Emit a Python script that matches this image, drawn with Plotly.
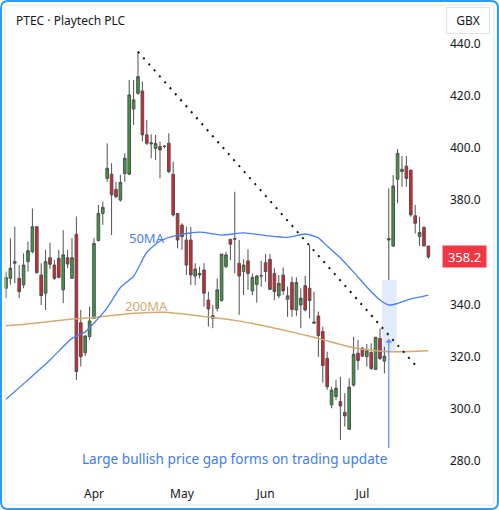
import plotly.graph_objects as go
import pandas as pd

# ---------------- data ----------------
holidays = ["2021-04-02", "2021-04-05", "2021-05-03", "2021-05-31"]
dates = pd.bdate_range("2021-03-04", "2021-07-22", freq="C", holidays=holidays)

opens = [346.2, 350.0, 355.8, 350.0, 347.5, 356.4, 360.2, 369.8, 351.3, 344.3,
         357.9, 355.1, 357.7, 345.6, 357.9, 350.0, 366.9, 333.0, 321.5, 327.7,
         334.7, 364.5, 374.9, 388.3, 389.9, 384.1, 380.0, 390.2, 389.9, 414.9,
         420.9, 421.8, 405.0, 401.5, 399.8, 400.5, 400.5, 401.8, 389.9, 374.9,
         370.4, 364.7, 364.7, 350.9, 351.3, 353.2, 341.7, 334.7, 338.5, 341.5,
         354.5, 365.0, 365.0, 355.8, 352.6, 356.7, 345.2, 347.7, 350.9, 356.0,
         357.3, 351.9, 343.3, 351.3, 342.0, 348.4, 337.9, 339.8, 347.2, 346.2,
         332.8, 335.6, 329.6, 319.3, 301.5, 304.7, 302.8, 298.7, 292.2, 309.1,
         321.3, 323.2, 320.0, 321.6, 315.1, 327.0, 318.3, 364.7, 362.4, 388.0,
         390.9, 393.0, 391.5, 374.0, 366.0, 369.5, 362.4]
highs = [352.6, 365.4, 369.8, 355.1, 359.6, 364.1, 376.8, 370.0, 355.8, 360.9,
         363.7, 357.0, 360.9, 368.5, 360.9, 365.4, 373.7, 337.9, 328.3, 339.2,
         365.4, 378.1, 379.4, 401.7, 394.1, 387.0, 389.6, 397.9, 426.0, 426.0,
         436.9, 425.4, 410.7, 405.2, 405.0, 402.4, 401.1, 405.6, 394.7, 374.9,
         371.1, 369.8, 369.8, 355.8, 354.5, 355.8, 344.9, 339.8, 350.0, 359.3,
         360.2, 365.0, 383.2, 364.7, 357.3, 361.1, 351.9, 351.3, 356.7, 359.3,
         359.3, 353.9, 351.3, 354.2, 346.8, 350.7, 350.4, 346.2, 351.0, 362.8,
         344.9, 337.3, 331.5, 321.9, 308.5, 311.1, 312.3, 306.0, 311.7, 327.6,
         326.4, 323.8, 324.8, 325.1, 327.6, 330.8, 323.8, 384.5, 389.6, 399.5,
         396.9, 396.9, 391.5, 378.1, 373.6, 370.0, 362.4]
lows = [342.4, 347.5, 348.1, 342.4, 346.2, 352.6, 359.6, 351.8, 339.8, 337.9,
        353.5, 349.4, 350.0, 340.5, 353.9, 350.0, 311.1, 316.2, 320.3, 326.4,
        334.7, 364.1, 370.5, 387.0, 366.6, 380.7, 379.4, 387.0, 389.6, 408.8,
        420.3, 402.4, 401.1, 396.0, 395.4, 388.3, 399.8, 390.3, 373.7, 361.5,
        360.9, 351.3, 347.4, 347.4, 350.0, 339.2, 331.5, 330.9, 337.3, 341.1,
        353.9, 357.0, 351.9, 336.0, 343.6, 345.6, 343.6, 340.7, 346.8, 348.7,
        345.5, 341.7, 342.4, 343.6, 335.3, 335.3, 335.6, 330.9, 337.3, 334.7,
        332.8, 320.0, 310.0, 307.3, 300.2, 303.4, 288.1, 293.2, 291.9, 308.5,
        314.9, 320.0, 316.2, 314.9, 314.9, 318.7, 313.6, 349.4, 362.0, 378.8,
        385.1, 385.1, 373.6, 367.2, 362.4, 362.4, 357.5]
closes = [350.3, 353.9, 356.4, 344.9, 355.1, 360.6, 369.8, 352.2, 343.4, 356.4,
          355.4, 350.0, 350.4, 359.0, 355.5, 357.9, 314.3, 320.0, 327.9, 333.7,
          363.4, 374.9, 377.2, 392.2, 382.0, 381.3, 386.8, 396.0, 420.3, 418.4,
          427.3, 405.0, 401.8, 401.9, 401.7, 399.2, 400.6, 390.9, 374.3, 364.7,
          366.0, 355.1, 351.3, 353.6, 351.9, 344.3, 338.3, 335.7, 345.6, 359.3,
          359.0, 363.1, 365.2, 350.9, 355.1, 351.9, 350.4, 350.9, 351.0, 352.6,
          345.8, 344.9, 348.1, 345.2, 343.3, 338.1, 348.4, 342.4, 337.9, 341.5,
          333.2, 328.1, 316.6, 308.5, 307.2, 307.9, 301.1, 297.3, 308.3, 320.9,
          318.5, 320.2, 322.3, 315.5, 327.4, 319.3, 320.2, 365.2, 385.4, 397.9,
          391.8, 388.3, 374.3, 371.1, 367.6, 362.4, 358.2]

# moving averages read at selected sessions (1-based session number)
ma50_session = [1, 6, 11, 16, 19, 21, 24, 27, 30, 33, 36, 40, 45, 50, 55, 60, 65,
                69, 71, 72, 74, 77, 80, 83, 86, 88, 90, 93, 97]
ma50_value = [303.7, 311.1, 318.7, 327.0, 329.5, 332.9, 338.7, 346.5, 350.8, 360.0,
              364.3, 366.6, 367.7, 366.6, 367.4, 366.4, 365.7, 367.0, 366.2, 365.5,
              362.4, 357.8, 352.4, 346.7, 341.7, 339.8, 340.4, 342.1, 343.6]
ma200_session = [1, 7, 16, 22, 30, 37, 45, 53, 57, 64, 71, 79, 82, 88, 97]
ma200_value = [331.8, 332.7, 334.4, 335.2, 336.6, 337.0, 335.6, 333.9, 332.7, 330.2,
               327.4, 323.8, 322.8, 321.9, 322.3]

month_ticks = ["2021-04-01", "2021-05-04", "2021-06-01", "2021-07-01"]
month_labels = ["Apr", "May", "Jun", "Jul"]
price_ticks = [280, 300, 320, 340, 380, 400, 420, 440]

last_price = closes[-1]

# ---------------- layout geometry ----------------
W, H = 499, 510
ML, MR, MT, MB = 3, 59, 20, 32
PW, PH = W - ML - MR, H - MT - MB

def px(xp):
    return (xp - ML) / PW

def py(yp):
    return (MT + PH - yp) / PH

def rounded_path(x0, y0, x1, y1, r):
    pts = []
    pts.append("M %f,%f" % (px(x0 + r), py(y0)))
    pts.append("L %f,%f" % (px(x1 - r), py(y0)))
    pts.append("Q %f,%f %f,%f" % (px(x1), py(y0), px(x1), py(y0 + r)))
    pts.append("L %f,%f" % (px(x1), py(y1 - r)))
    pts.append("Q %f,%f %f,%f" % (px(x1), py(y1), px(x1 - r), py(y1)))
    pts.append("L %f,%f" % (px(x0 + r), py(y1)))
    pts.append("Q %f,%f %f,%f" % (px(x0), py(y1), px(x0), py(y1 - r)))
    pts.append("L %f,%f" % (px(x0), py(y0 + r)))
    pts.append("Q %f,%f %f,%f Z" % (px(x0), py(y0), px(x0 + r), py(y0)))
    return " ".join(pts)

FONT = "Noto Sans"
TXT = "#131722"
BLUE = "#4a80f0"
TAN = "#d4aa72"

fig = go.Figure()

fig.add_trace(go.Scatter(
    x=[dates[i - 1] for i in ma200_session], y=ma200_value, mode="lines",
    line=dict(color=TAN, width=1.5, shape="spline", smoothing=0.6),
    hoverinfo="skip", showlegend=False))
fig.add_trace(go.Scatter(
    x=[dates[i - 1] for i in ma50_session], y=ma50_value, mode="lines",
    line=dict(color=BLUE, width=1.3, shape="spline", smoothing=0.6),
    hoverinfo="skip", showlegend=False))

fig.add_trace(go.Candlestick(
    x=dates, open=opens, high=highs, low=lows, close=closes,
    increasing=dict(fillcolor="#3b9b3f", line=dict(color="#505050", width=1)),
    decreasing=dict(fillcolor="#e3212d", line=dict(color="#505050", width=1)),
    whiskerwidth=0, hoverinfo="skip", showlegend=False))

shapes = [
    # gap highlight
    dict(type="rect", xref="x", yref="y", x0="2021-07-07 12:00", x1="2021-07-12 19:00",
         y0=321.5, y1=lows[87], fillcolor="rgba(205,222,250,0.6)", line=dict(width=0),
         layer="below"),
    # falling trendline from peak
    dict(type="line", xref="x", yref="y", x0=dates[30], y0=highs[30], x1=dates[93], y1=316.8,
         line=dict(color="#111111", width=2, dash="2px,6px")),
    # inner frame
    dict(type="path", xref="paper", yref="paper", path=rounded_path(5, 5, 494, 505, 4),
         line=dict(color="#e4e6ea", width=1)),
    # outer border
    dict(type="path", xref="paper", yref="paper", path=rounded_path(1, 1, 498, 509, 7),
         line=dict(color="#2a9df4", width=2)),
]

annotations = [
    dict(xref="paper", yref="paper", x=px(14), y=py(20.5), xanchor="left", yanchor="middle",
         text="PTEC · Playtech PLC", showarrow=False, font=dict(family=FONT, size=12, color=TXT)),
    dict(xref="paper", yref="paper", x=px(468), y=py(21), xanchor="center", yanchor="middle",
         text="GBX", showarrow=False, font=dict(family=FONT, size=12, color=TXT),
         bordercolor="#e0e3eb", borderwidth=1, borderpad=3, width=36, height=19),
    dict(xref="paper", yref="y", x=px(464.5), y=last_price, xanchor="center", yanchor="middle",
         text="%.1f" % last_price, showarrow=False, font=dict(family=FONT, size=13, color="white"),
         bgcolor="#f23645", borderpad=2, width=39, height=17),
    dict(xref="x", yref="y", x=dates[32], y=365.5, text="50MA", showarrow=False,
         font=dict(family=FONT, size=13, color=BLUE)),
    dict(xref="x", yref="y", x=dates[32], y=339.4, text="200MA", showarrow=False,
         font=dict(family=FONT, size=13, color=TAN)),
    dict(xref="x", yref="y", x=dates[52], y=280.8, text="Large bullish price gap forms on trading update",
         showarrow=False, font=dict(family=FONT, size=13.6, color="#3f7de8")),
    dict(xref="x", yref="y", x=dates[87], y=326.8, axref="x", ayref="y", ax=dates[87], ay=284.3,
         text="", showarrow=True, arrowhead=1, arrowsize=1, arrowwidth=1.2, arrowcolor="#5b8def"),
]

fig.update_layout(
    template="none",
    width=W, height=H, margin=dict(l=ML, r=MR, t=MT, b=MB, pad=0, autoexpand=False),
    paper_bgcolor="white", plot_bgcolor="white",
    font=dict(family=FONT, color=TXT, size=12),
    shapes=shapes, annotations=annotations, showlegend=False, boxgap=0.15,
    xaxis=dict(type="date", range=["2021-03-03 07:40", "2021-07-26 15:20"], automargin=False,
               rangebreaks=[dict(bounds=["sat", "mon"]), dict(values=holidays)],
               tickvals=month_ticks, ticktext=month_labels, ticks="", showgrid=False,
               zeroline=False, showline=False, rangeslider=dict(visible=False),
               tickfont=dict(family=FONT, size=12, color=TXT), ticklabelstandoff=7),
    yaxis=dict(side="right", range=[273.5, 449.0], tickvals=price_ticks, tickformat=".1f",
               automargin=False, ticks="", showgrid=False, zeroline=False, showline=False,
               tickfont=dict(family=FONT, size=12, color=TXT), ticklabelstandoff=9),
)

fig.write_html("out.html", config={"displayModeBar": False},
               post_script="document.body.style.margin='0';document.body.style.overflow='hidden';")
